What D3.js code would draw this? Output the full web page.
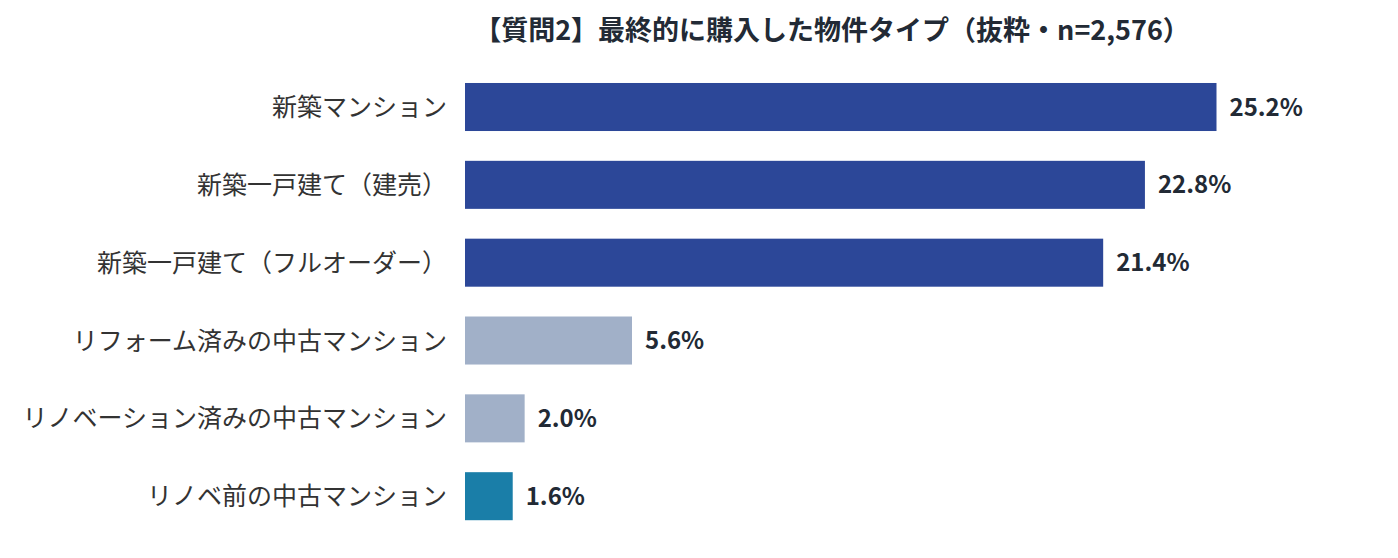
<!DOCTYPE html>
<html>
<head>
<meta charset="utf-8">
<script src="https://cdn.jsdelivr.net/npm/d3@7"></script>
<style>
  body { margin: 0; background: #fff; }
  svg { display: block; font-family: "Noto Sans CJK JP", "Noto Sans", sans-serif; }
</style>
</head>
<body>
<svg id="chart" width="1398" height="558"></svg>
<script>
const categories = [
  "新築マンション",
  "新築一戸建て（建売）",
  "新築一戸建て（フルオーダー）",
  "リフォーム済みの中古マンション",
  "リノベーション済みの中古マンション",
  "リノベ前の中古マンション"
];
const values = [25.2, 22.8, 21.4, 5.6, 2.0, 1.6];
const barColors = ["#2c4798", "#2c4798", "#2c4798", "#a1b0c8", "#a1b0c8", "#1a7ea8"];
const title = "【質問2】最終的に購入した物件タイプ（抜粋・n=2,576）";

const svg = d3.select("#chart");
const left = 465;

const x = d3.scaleLinear().domain([0, 25.2]).range([left, 1216.5]);
const y = d3.scaleBand()
  .domain(categories)
  .range([68.2, 535])
  .paddingInner(0.383)
  .paddingOuter(0.19);

svg.append("text")
  .attr("x", 832)
  .attr("y", 40)
  .attr("text-anchor", "middle")
  .attr("font-size", 27)
  .attr("font-weight", 700)
  .attr("fill", "#222a35")
  .text(title);

const rows = svg.selectAll("g.row")
  .data(categories)
  .enter()
  .append("g")
  .attr("class", "row");

rows.append("rect")
  .attr("x", x(0))
  .attr("y", d => y(d))
  .attr("height", y.bandwidth())
  .attr("width", (d, i) => x(values[i]) - x(0))
  .attr("fill", (d, i) => barColors[i]);

rows.append("text")
  .attr("x", 447)
  .attr("y", d => y(d) + y.bandwidth() / 2)
  .attr("dy", "0.36em")
  .attr("text-anchor", "end")
  .attr("font-size", 25)
  .attr("fill", "#333")
  .text(d => d);

rows.append("text")
  .attr("x", (d, i) => x(values[i]) + 13)
  .attr("y", d => y(d) + y.bandwidth() / 2)
  .attr("dy", "0.36em")
  .attr("font-size", 24)
  .attr("font-weight", 700)
  .attr("fill", "#222a35")
  .text((d, i) => values[i].toFixed(1) + "%");
</script>
</body>
</html>
